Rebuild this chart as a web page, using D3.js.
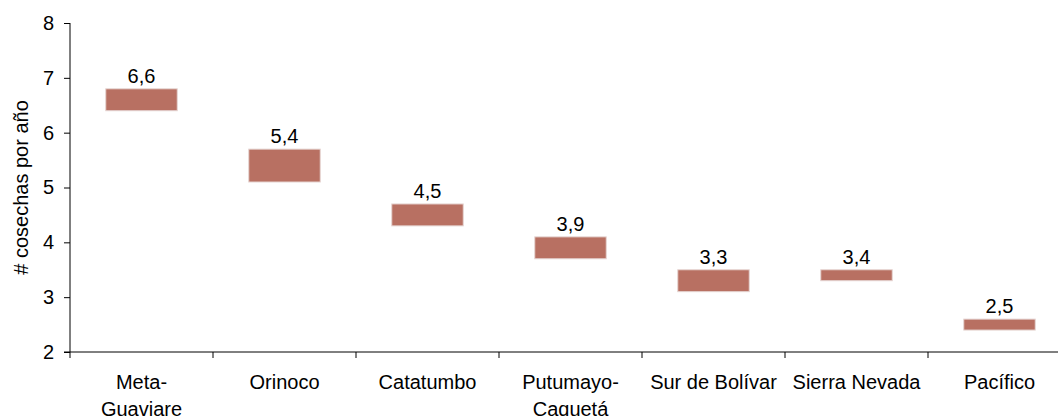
<!DOCTYPE html>
<html><head><meta charset="utf-8">
<script src="https://cdn.jsdelivr.net/npm/d3@7"></script>
<style>body{margin:0;background:#fff}svg{display:block;font-family:"Liberation Sans",Arial,sans-serif}</style>
</head><body><svg id="c" width="1058" height="416"></svg>
<script>
const categories = ["Meta-Guaviare","Orinoco","Catatumbo","Putumayo-Caquetá","Sur de Bolívar","Sierra Nevada","Pacífico"];
const catLines = [["Meta-","Guaviare"],["Orinoco"],["Catatumbo"],["Putumayo-","Caquetá"],["Sur de Bolívar"],["Sierra Nevada"],["Pacífico"]];
const lowValues = [6.4,5.1,4.3,3.7,3.1,3.3,2.4];
const highValues = [6.8,5.7,4.7,4.1,3.5,3.5,2.6];
const labelValues = [6.6,5.4,4.5,3.9,3.3,3.4,2.5];
const yTicks = [2,3,4,5,6,7,8];
const yTitle = "# cosechas por año";

const svg = d3.select("#c");
const x0 = 70, bandW = 143, yTop = 23, yBot = 352, fs = 20;
const x = d3.scaleBand().domain(categories).range([x0, x0 + bandW*categories.length]).paddingInner(0.5).paddingOuter(0.25);
const y = d3.scaleLinear().domain([2,8]).range([yBot, yTop]);
const fmt = v => v.toFixed(1).replace(".", ",");
const ink = "#000";

// y axis
const ya = svg.append("g").attr("transform",`translate(${x0},0)`)
  .call(d3.axisLeft(y).tickValues(yTicks).tickSize(6).tickPadding(10).tickFormat(d3.format("d")));
ya.select(".domain").remove();
ya.selectAll(".tick line").attr("stroke","#000");
ya.selectAll(".tick text").attr("font-size",fs).attr("fill",ink).attr("font-family","Liberation Sans, Arial, sans-serif");
svg.append("line").attr("x1",x0).attr("x2",x0).attr("y1",y(8)).attr("y2",yBot+6).attr("stroke","#000");

// x axis
svg.append("line").attr("x1",x0-6).attr("x2",1058).attr("y1",yBot).attr("y2",yBot).attr("stroke","#000");
d3.range(1, categories.length).forEach(i=>{
  const tx = x0 + i*bandW;
  svg.append("line").attr("x1",tx).attr("x2",tx).attr("y1",yBot).attr("y2",yBot+6).attr("stroke","#000");
});
categories.forEach((c,i)=>{
  const t = svg.append("text").attr("x", x(c)+x.bandwidth()/2).attr("y", 389)
    .attr("text-anchor","middle").attr("font-size",fs).attr("fill",ink);
  catLines[i].forEach((ln,j)=> t.append("tspan").attr("x", x(c)+x.bandwidth()/2).attr("dy", j?27:0).text(ln));
});

// y title
svg.append("text").attr("transform",`translate(28,${(yTop+yBot)/2}) rotate(-90)`)
  .attr("text-anchor","middle").attr("font-size",fs).attr("fill",ink).text(yTitle);

// bars
const g = svg.append("g");
g.selectAll("rect").data(categories).join("rect")
  .attr("x", c=>x(c)).attr("width", x.bandwidth())
  .attr("y", (c,i)=>y(highValues[i])).attr("height",(c,i)=>y(lowValues[i])-y(highValues[i]))
  .attr("fill","#b87062").attr("stroke","#e6d6d4").attr("stroke-width",1);
g.selectAll("text").data(categories).join("text")
  .attr("x", c=>x(c)+x.bandwidth()/2).attr("y",(c,i)=>y(highValues[i])-6)
  .attr("text-anchor","middle").attr("font-size",fs).attr("fill",ink)
  .text((c,i)=>fmt(labelValues[i]));
</script></body></html>
